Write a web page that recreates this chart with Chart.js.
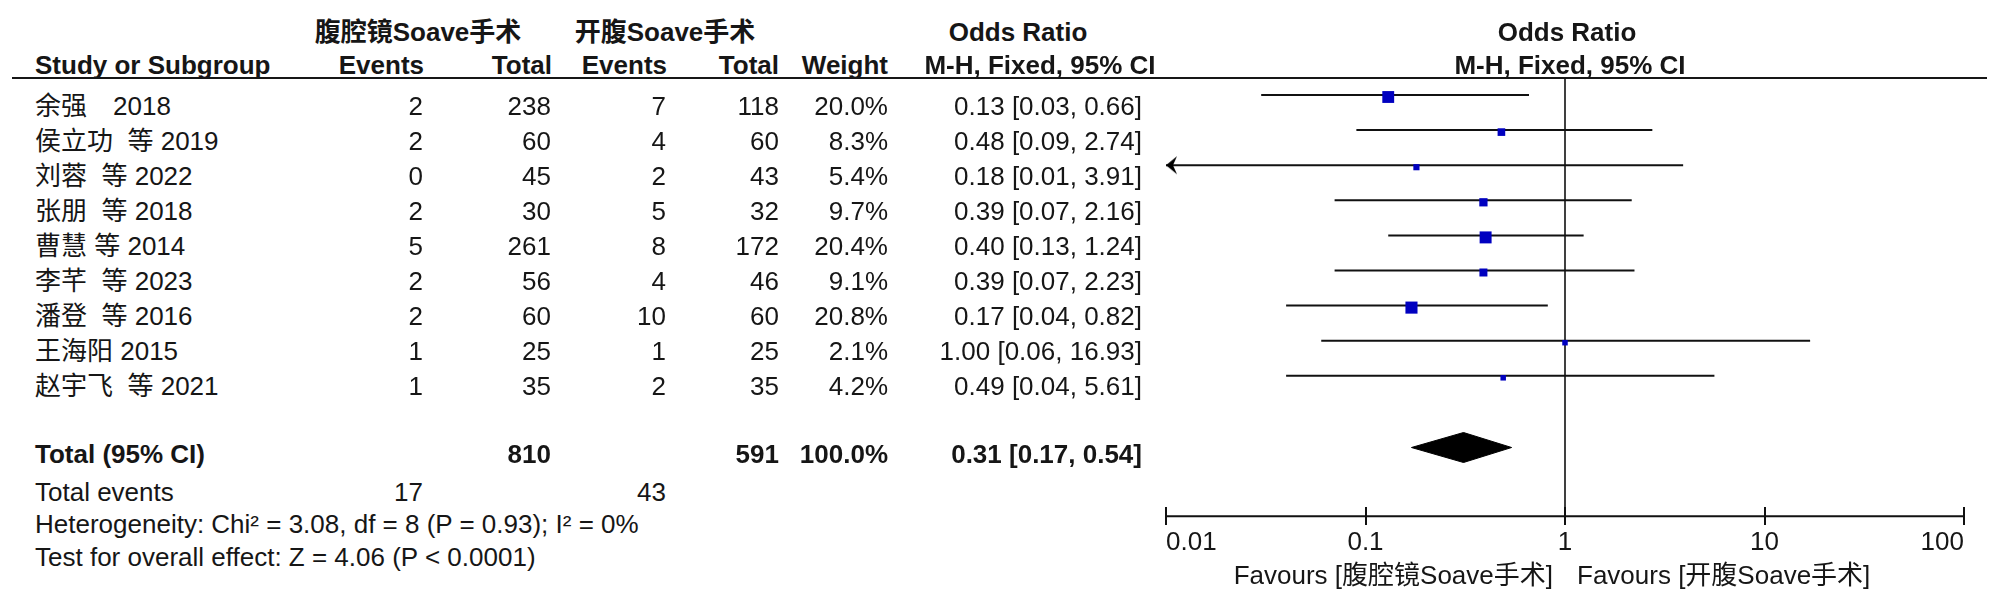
<!DOCTYPE html>
<html>
<head>
<meta charset="utf-8">
<script src="https://cdn.jsdelivr.net/npm/chart.js@4.4.1/dist/chart.umd.min.js"></script>
<style>
html, body { margin: 0; padding: 0; background: #ffffff; }
#page { position: relative; width: 2000px; height: 605px; overflow: hidden;
  font-family: "Liberation Sans", Arial, "Noto Sans CJK SC", sans-serif; font-size: 26px; color: #161616; }
.t { position: absolute; white-space: pre; line-height: 30px; height: 30px; }
.b { font-weight: bold; }
#rule { position: absolute; left: 12px; top: 77px; width: 1975px; height: 2px; background: #161616; }
#plot { position: absolute; left: 1100px; top: 0px; }
</style>
</head>
<body>
<div id="page">
  <div id="rule"></div>
  <canvas id="plot" width="900" height="605"></canvas>
</div>
<script>
// ---------------- data ----------------
const studies = ["余强　2018", "侯立功  等 2019", "刘蓉  等 2022", "张朋  等 2018", "曹慧 等 2014",
                 "李芊  等 2023", "潘登  等 2016", "王海阳 2015", "赵宇飞  等 2021"];
const expEvents = [2, 2, 0, 2, 5, 2, 2, 1, 1];
const expTotal  = [238, 60, 45, 30, 261, 56, 60, 25, 35];
const ctlEvents = [7, 4, 2, 5, 8, 4, 10, 1, 2];
const ctlTotal  = [118, 60, 43, 32, 172, 46, 60, 25, 35];
const weights   = [20.0, 8.3, 5.4, 9.7, 20.4, 9.1, 20.8, 2.1, 4.2];
const oddsRatio = [0.13, 0.48, 0.18, 0.39, 0.40, 0.39, 0.17, 1.00, 0.49];
const ciLower   = [0.03, 0.09, 0.01, 0.07, 0.13, 0.07, 0.04, 0.06, 0.04];
const ciUpper   = [0.66, 2.74, 3.91, 2.16, 1.24, 2.23, 0.82, 16.93, 5.61];
const pooledOR = 0.31, pooledLower = 0.17, pooledUpper = 0.54;
const tickValues = [0.01, 0.1, 1, 10, 100];
const tickLabels = ["0.01", "0.1", "1", "10", "100"];
const expName = "腹腔镜Soave手术";
const ctlName = "开腹Soave手术";
const heterogeneityText = "Heterogeneity: Chi² = 3.08, df = 8 (P = 0.93); I² = 0%";
const overallText = "Test for overall effect: Z = 4.06 (P < 0.0001)";

// ---------------- text table ----------------
const page = document.getElementById('page');
function put(text, x, yc, align, bold) {
  const d = document.createElement('div');
  d.className = 't' + (bold ? ' b' : '');
  d.textContent = text;
  d.style.top = (yc - 15) + 'px';
  if (align === 'left') d.style.left = x + 'px';
  else if (align === 'right') d.style.right = (2000 - x) + 'px';
  else { d.style.left = x + 'px'; d.style.transform = 'translateX(-50%)'; }
  page.appendChild(d);
}
const sum = a => a.reduce((s, v) => s + v, 0);
const fmtCI = (o, l, h) => o.toFixed(2) + ' [' + l.toFixed(2) + ', ' + h.toFixed(2) + ']';

const col = { name: 35, expEv: 423, expTot: 551, ctlEv: 666, ctlTot: 779, wt: 888, orTxt: 1142 };
const head1Y = 32, head2Y = 65, rowY0 = 105.5, rowStep = 35.1;

put(expName, 418, head1Y, 'center', true);
put(ctlName, 665, head1Y, 'center', true);
put("Odds Ratio", 1018, head1Y, 'center', true);
put("Odds Ratio", 1567, head1Y, 'center', true);
put("Study or Subgroup", col.name, head2Y, 'left', true);
put("Events", 424, head2Y, 'right', true);
put("Total", 552, head2Y, 'right', true);
put("Events", 667, head2Y, 'right', true);
put("Total", 779, head2Y, 'right', true);
put("Weight", 888, head2Y, 'right', true);
put("M-H, Fixed, 95% CI", 1040, head2Y, 'center', true);
put("M-H, Fixed, 95% CI", 1570, head2Y, 'center', true);

studies.forEach((s, i) => {
  const y = rowY0 + rowStep * i;
  put(s, col.name, y, 'left', false);
  put(String(expEvents[i]), col.expEv, y, 'right', false);
  put(String(expTotal[i]), col.expTot, y, 'right', false);
  put(String(ctlEvents[i]), col.ctlEv, y, 'right', false);
  put(String(ctlTotal[i]), col.ctlTot, y, 'right', false);
  put(weights[i].toFixed(1) + '%', col.wt, y, 'right', false);
  put(fmtCI(oddsRatio[i], ciLower[i], ciUpper[i]), col.orTxt, y, 'right', false);
});

const totY = 454, evY = 492, hetY = 524, testY = 557, favY = 575;
put("Total (95% CI)", col.name, totY, 'left', true);
put(String(sum(expTotal)), col.expTot, totY, 'right', true);
put(String(sum(ctlTotal)), col.ctlTot, totY, 'right', true);
put(sum(weights).toFixed(1) + '%', col.wt, totY, 'right', true);
put(fmtCI(pooledOR, pooledLower, pooledUpper), col.orTxt, totY, 'right', true);
put("Total events", col.name, evY, 'left', false);
put(String(sum(expEvents)), col.expEv, evY, 'right', false);
put(String(sum(ctlEvents)), col.ctlEv, evY, 'right', false);
put(heterogeneityText, col.name, hetY, 'left', false);
put(overallText, col.name, testY, 'left', false);
put("Favours [" + expName + "]", 1553, favY, 'right', false);
put("Favours [" + ctlName + "]", 1577, favY, 'left', false);

// ---------------- forest plot ----------------
const xMin = tickValues[0], xMax = tickValues[tickValues.length - 1];
const gTop = 78, gRow0 = 95, areaBottom = 507;
const yMin = (gTop - gRow0) / rowStep, yMax = (areaBottom - gRow0) / rowStep;
const totalRow = studies.length + 1;      // pooled diamond row
const axisRow = studies.length + 3;       // horizontal axis row
const diamondHalf = 15 / rowStep;
const squareDrop = 2 / rowStep;           // squares sit slightly below their CI line
const diamondDrop = 1.5 / rowStep;

const arrowImg = document.createElement('canvas');
arrowImg.width = 24; arrowImg.height = 20;
(function () {
  const c = arrowImg.getContext('2d');
  c.fillStyle = '#000';
  c.beginPath(); c.moveTo(12, 10); c.lineTo(23, 1); c.lineTo(19, 10); c.lineTo(23, 19); c.closePath(); c.fill();
})();

const black = '#111111';
const datasets = [];
datasets.push({
  label: 'OR', order: 0,
  data: oddsRatio.map((v, i) => ({ x: v, y: i + squareDrop })),
  pointStyle: 'rect',
  pointRadius: weights.map(w => Math.max(5.5, 2.65 * Math.sqrt(w)) / Math.SQRT2),
  backgroundColor: '#0000c0', borderColor: '#0000c0', borderWidth: 0
});
const arrowPts = [];
ciLower.forEach((l, i) => { if (l <= xMin) arrowPts.push({ x: xMin, y: i }); });
datasets.push({ label: 'arrows', order: 0, data: arrowPts, pointStyle: arrowImg, pointRadius: 10, clip: false });
studies.forEach((s, i) => {
  datasets.push({
    label: 'CI ' + i, order: 2, showLine: true, pointRadius: 0,
    borderColor: black, borderWidth: 2,
    data: [{ x: Math.max(ciLower[i], xMin), y: i }, { x: Math.min(ciUpper[i], xMax), y: i }]
  });
});
const dy = totalRow + diamondDrop;
datasets.push({
  label: 'pooled', order: 1, showLine: true, pointRadius: 0, tension: 0,
  borderColor: '#000', backgroundColor: '#000', borderWidth: 1, fill: 'shape',
  data: [
    { x: pooledLower, y: dy }, { x: pooledOR, y: dy - diamondHalf },
    { x: pooledUpper, y: dy }, { x: pooledOR, y: dy + diamondHalf },
    { x: pooledLower, y: dy }
  ]
});
datasets.push({
  label: 'null', order: 3, showLine: true, pointRadius: 0, clip: false,
  borderColor: black, borderWidth: 1.6,
  data: [{ x: 1, y: yMin }, { x: 1, y: axisRow }]
});
datasets.push({
  label: 'axis', order: 3, showLine: true, pointRadius: 0, clip: false,
  borderColor: black, borderWidth: 2,
  data: [{ x: xMin, y: axisRow }, { x: xMax, y: axisRow }]
});

new Chart(document.getElementById('plot'), {
  type: 'scatter',
  data: { datasets },
  options: {
    responsive: false, animation: false, devicePixelRatio: 1,
    layout: { padding: { left: 66, right: 36, top: gTop, bottom: 0 } },
    plugins: { legend: { display: false }, tooltip: { enabled: false } },
    scales: {
      x: {
        type: 'logarithmic', position: 'bottom', min: xMin, max: xMax,
        border: { display: false },
        grid: { drawOnChartArea: false, drawTicks: true, tickLength: 18, color: black, lineWidth: 2 },
        afterBuildTicks: sc => { sc.ticks = tickValues.map(v => ({ value: v })); },
        afterFit: sc => { sc.height = 605 - areaBottom; },
        ticks: {
          align: 'inner', padding: 2, maxRotation: 0, autoSkip: false, color: '#161616',
          font: { family: '"Liberation Sans", Arial, sans-serif', size: 26 },
          callback: (v, idx) => tickLabels[idx]
        }
      },
      y: { type: 'linear', display: false, reverse: true, min: yMin, max: yMax }
    }
  }
});
</script>
</body>
</html>
